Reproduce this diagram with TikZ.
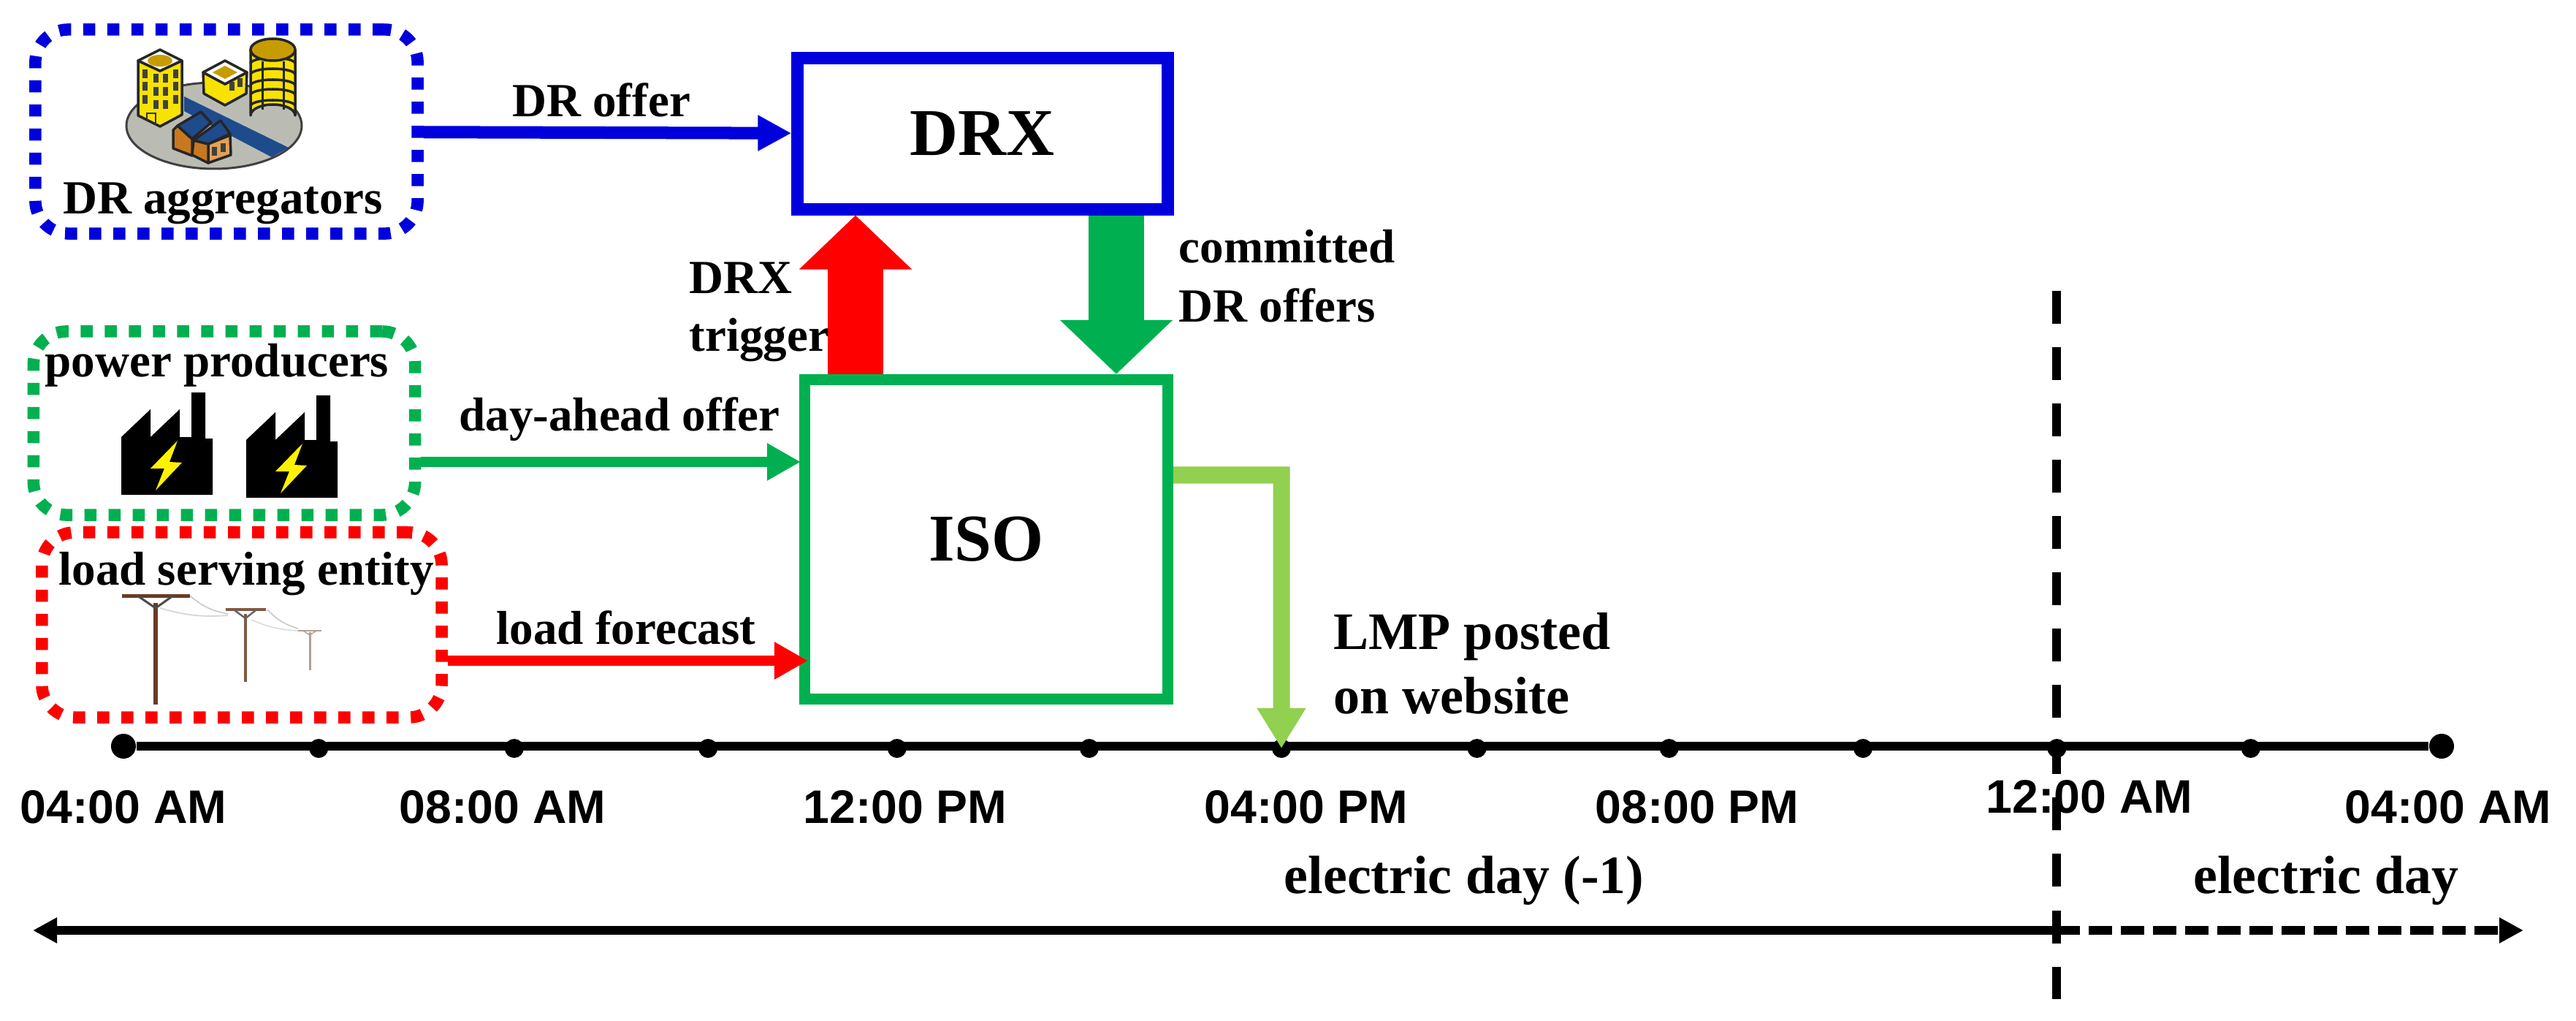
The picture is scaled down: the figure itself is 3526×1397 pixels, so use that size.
\documentclass[tikz,border=0pt]{standalone}
\usepackage{fontspec}
\setmainfont{Liberation Serif}
\newfontfamily\timefont{Liberation Sans}
\usetikzlibrary{arrows.meta}

\definecolor{drblue}{RGB}{0,0,220}
\definecolor{drgreen}{RGB}{0,176,80}
\definecolor{lmpgreen}{RGB}{146,208,80}
\definecolor{polebrown}{RGB}{105,60,35}
\definecolor{towergold}{RGB}{198,156,0}
\definecolor{toweryellow}{RGB}{248,226,0}
\definecolor{roadblue}{RGB}{30,75,140}
\definecolor{houseorange}{RGB}{200,120,30}
\definecolor{housetan}{RGB}{228,160,85}
\definecolor{groundgray}{RGB}{186,188,180}

\begin{document}
\begin{tikzpicture}[x=0.01cm,y=-0.01cm,
    party/.style ={rectangle, rounded corners=0.45cm, draw, line width=0.165cm, dash pattern=on 0.165cm off 0.165cm, inner sep=0pt},
    market/.style ={rectangle, draw, inner sep=0pt, font=\fontsize{26}{30}\selectfont\bfseries},
    note/.style ={anchor=base, font=\fontsize{18.5}{22}\selectfont\bfseries},
    sidenote/.style ={anchor=base west, inner sep=0pt, font=\fontsize{18.5}{22}\selectfont\bfseries},
    lmpnote/.style ={anchor=base west, inner sep=0pt, font=\fontsize{20.5}{25}\selectfont\bfseries},
    bigtext/.style ={anchor=base, font=\fontsize{21}{25}\selectfont\bfseries},
    clock/.style ={font=\timefont\fontsize{18.3}{22}\selectfont\bfseries},
    tick/.style ={circle, fill, inner sep=0pt, minimum size=0.26cm},
    endtick/.style ={circle, fill, inner sep=0pt, minimum size=0.34cm},
    flow/.style ={line width=0.14cm, -{Triangle[length=0.46cm,width=0.48cm]}},
    block/.style ={line width=0.75cm, -{Triangle[length=0.74cm,width=1.5cm]}},
    span/.style ={line width=0.12cm},
    outline/.style ={draw=black!85, line width=0.035cm, line join=round},
    pane/.style ={fill=black!75}]
   \useasboundingbox (0,0) rectangle (3526,1397);

   \node[party, color=drblue, minimum width=5.23cm, minimum height=2.79cm] (aggregators) at (310,180) {};
   \node[party, color=drgreen, minimum width=5.22cm, minimum height=2.51cm] (producers) at (307,579) {};
   \node[party, color=red, minimum width=5.47cm, minimum height=2.53cm] (lse) at (331,855) {};
   \node[market, color=drblue, line width=0.17cm, minimum width=5.06cm, minimum height=2.06cm, text=black] (DRX) at (1345,183) {DRX};
   \node[market, color=drgreen, line width=0.15cm, minimum width=4.97cm, minimum height=4.37cm, text=black] (ISO) at (1350,738) {ISO};

   \fill[groundgray, draw=black!75, line width=0.03cm] (293,172) ellipse (120 and 59);
   \fill[roadblue] (252,132) -- (395,202) -- (372,215) -- (252,152) -- cycle;
   \fill[toweryellow, outline] (189,83) -- (219,97) -- (249,83) -- (249,157) -- (219,173) -- (189,158) -- cycle;
   \fill[white, outline] (219,68) -- (249,83) -- (219,97) -- (189,83) -- cycle;
   \fill[towergold] (219,83) ellipse (17 and 8);
   \foreach \col/\row in {198/101,198/118,198/136,213/107,213/125,213/143,226/107,226/125,226/143,240/101,240/118,240/136}
      \fill[pane] (\col-3.5,\row-6) rectangle ++(7,12);
   \draw[black!80, line width=0.025cm] (201,166) -- (201,155) -- (213,155) -- (213,171);
   \fill[toweryellow, outline] (278,99) -- (308,115) -- (338,99) -- (337,128) -- (308,144) -- (279,128) -- cycle;
   \fill[white, outline] (308,83) -- (338,99) -- (308,115) -- (278,99) -- cycle;
   \fill[towergold] (308,90) -- (325,99) -- (308,108) -- (291,99) -- cycle;
   \foreach \col/\row in {317/118,328/113}
      \fill[pane] (\col-3.5,\row-6) rectangle ++(7,12);
   \fill[toweryellow, outline] (343,68) -- (343,158) arc[start angle=180, end angle=360, x radius=30.5, y radius=15] -- (404,68) -- cycle;
   \foreach \band in {87,102,117,130,145}
      \draw[black!85, line width=0.035cm] (343,\band) arc[start angle=180, end angle=360, x radius=30.5, y radius=8];
   \draw[black!85, line width=0.03cm] (359,84) -- (359,150) (388,84) -- (388,150);
   \fill[towergold, outline] (373.5,68) ellipse (30.5 and 15);
   \fill[houseorange, outline] (237,178) -- (243,172) -- (263,190) -- (263,213) -- (237,203) -- cycle;
   \fill[roadblue, outline] (243,172) -- (275,153) -- (289,168) -- (263,190) -- cycle;
   \fill[housetan, outline] (285,197) -- (315,185) -- (316,212) -- (285,223) -- cycle;
   \fill[houseorange, outline] (265,192) -- (285,197) -- (285,223) -- (263,212) -- cycle;
   \fill[roadblue, outline] (265,192) -- (302,165) -- (315,183) -- (285,197) -- cycle;
   \foreach \col/\row in {293/207,305/202}
      \fill[pane] (\col-3.5,\row-6) rectangle ++(7,12);

   \foreach \dx/\dy in {0/0,171/4} {
      \fill[black] (166+\dx,677+\dy) -- (166+\dx,598+\dy) -- (206+\dx,560+\dy) -- (206+\dx,598+\dy) -- (246+\dx,560+\dy) -- (246+\dx,598+\dy) -- (262+\dx,598+\dy) -- (262+\dx,537+\dy) -- (281+\dx,537+\dy) -- (281+\dx,600+\dy) -- (291+\dx,600+\dy) -- (291+\dx,677+\dy) -- cycle;
      \fill[yellow] (243+\dx,603+\dy) -- (206+\dx,641+\dy) -- (225+\dx,641+\dy) -- (213+\dx,671+\dy) -- (249+\dx,633+\dy) -- (232+\dx,632+\dy) -- cycle;
   }

   \draw[gray!45, line width=0.015cm] (260,815) to[bend right=15] (312,840);
   \draw[gray!30, line width=0.02cm] (219,832) to[bend right=10] (312,842);
   \draw[gray!45, line width=0.015cm] (366,834) to[bend right=15] (408,860);
   \draw[gray!30, line width=0.015cm] (344,848) to[bend right=10] (408,863);
   \draw[polebrown, line width=0.055cm] (213,825) -- (213,964);
   \draw[polebrown, line width=0.05cm] (167,815) -- (260,815);
   \draw[black!70, line width=0.03cm] (188,815) -- (213,832) -- (237,815);
   \draw[polebrown!85, line width=0.04cm] (336,840) -- (336,933);
   \draw[polebrown!85, line width=0.035cm] (309,834) -- (364,834);
   \draw[black!60, line width=0.025cm] (321,835) -- (336,846) -- (350,835);
   \draw[polebrown!50, line width=0.03cm] (424,865) -- (424,917);
   \draw[polebrown!50, line width=0.025cm] (408,863) -- (440,863);
   \draw[black!35, line width=0.015cm] (415,863) -- (424,869) -- (433,863);

   \node[note] (aggrtext) at (305,292) {DR aggregators};
   \node[note] (prodtext) at (297,515) {power producers};
   \node[note] (lsetext) at (337,800) {load serving entity};
   \node[note] (offertext) at (823,160) {DR offer};
   \node[note] (daytext) at (848,589) {day-ahead offer};
   \node[note] (loadtext) at (857,881) {load forecast};
   \node[sidenote] (drxtext) at (943,402) {DRX};
   \node[sidenote] (triggertext) at (943,480) {trigger};
   \node[sidenote] (committedtext) at (1613,360) {committed};
   \node[sidenote] (drofferstext) at (1613,440) {DR offers};
   \node[lmpnote] (lmptext) at (1825,888) {LMP posted};
   \node[lmpnote] (websitetext) at (1825,976) {on website};
   \node[bigtext] (daybefore) at (2004,1222) {electric day (-1)};
   \node[bigtext] (daynext) at (3184,1222) {electric day};

   \foreach \x [count=\i] in {194,313,431,546,663,780,899,1016,1134,1252,1370} {
      \node[tick] (t\i) at (\x*2.2487,1024) {};
   }
   \node[endtick] (tstart) at (169,1021) {};
   \node[endtick] (tend) at (3342,1021) {};
   \draw[span] (tstart) -- (tend);

   \foreach \x/\y/\txt [count=\i] in {169/1104/04:00 AM,688/1104/08:00 AM,1239/1104/12:00 PM,1788/1104/04:00 PM,2323/1104/08:00 PM,2860/1090/12:00 AM,3351/1104/04:00 AM} {
      \node[clock] (c\i) at (\x,\y) {\txt};
   }

   \coordinate (dayin) at (1096,632);
   \coordinate (loadin) at (1106,904);
   \coordinate (elbow) at (1754,650);
   \coordinate (trigger) at (1171,400);
   \coordinate (committed) at (1528,400);
   \coordinate (farleft) at (45,1273);
   \coordinate (farright) at (3454,1273);
   \coordinate (midnight) at (2815,1273);
   \coordinate (gridtop) at (2815,398);
   \coordinate (gridbottom) at (2815,1367);

   \draw[flow, color=drblue, line width=0.17cm, -{Triangle[length=0.46cm,width=0.46cm]}] (aggregators) -- (DRX);
   \draw[flow, color=drgreen] (producers.east |- dayin) -- (dayin);
   \draw[flow, color=red] (lse.east |- loadin) -- (loadin);
   \draw[block, color=red] (trigger |- ISO.north) -- (trigger |- DRX.south);
   \draw[block, color=drgreen] (committed |- DRX.south) -- (committed |- ISO.north);
   \draw[color=lmpgreen, line width=0.23cm, -{Triangle[length=0.55cm,width=0.63cm]}] (ISO.east |- elbow) -- (elbow) -- (t6.center);

   \draw[span, -{Triangle[length=0.33cm,width=0.33cm]}] (midnight) -- (farleft);
   \draw[span, dash pattern=on 0.32cm off 0.12cm, -{Triangle[length=0.33cm,width=0.33cm]}] (midnight) -- (farright);
   \draw[span, dash pattern=on 0.45cm off 0.32cm] (gridtop) -- (gridbottom);
\end{tikzpicture}
\end{document}
